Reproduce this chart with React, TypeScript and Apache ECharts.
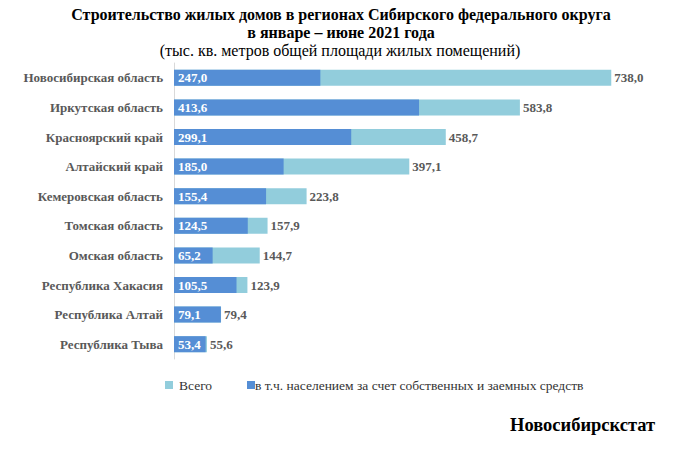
import React, { useEffect, useRef } from "react";
import * as echarts from "echarts";

const regions = [
  "Новосибирская область",
  "Иркутская область",
  "Красноярский край",
  "Алтайский край",
  "Кемеровская область",
  "Томская область",
  "Омская область",
  "Республика Хакасия",
  "Республика Алтай",
  "Республика Тыва",
];
const totalValues = [738.0, 583.8, 458.7, 397.1, 223.8, 157.9, 144.7, 123.9, 79.4, 55.6];
const populationValues = [247.0, 413.6, 299.1, 185.0, 155.4, 124.5, 65.2, 105.5, 79.1, 53.4];
const seriesNames = ["Всего", "в т.ч. населением за счет собственных и заемных средств"];

const FONT = "Liberation Serif";
const fmt = (v: number) => v.toFixed(1).replace(".", ",");

export default function App() {
  const ref = useRef<HTMLDivElement>(null);
  useEffect(() => {
    if (!ref.current) return;
    const chart = echarts.init(ref.current, undefined, { renderer: "svg" });
    chart.setOption({
      animation: false,
      backgroundColor: "#ffffff",
      textStyle: { fontFamily: FONT },
      title: [
        {
          text: "Строительство жилых домов в регионах Сибирского федерального округа",
          left: 336,
          top: 1,
          textAlign: "center",
          textStyle: { fontFamily: FONT, fontSize: 16, fontWeight: "bold", color: "#000" },
        },
        {
          text: "в январе – июне 2021 года",
          left: 336,
          top: 19,
          textAlign: "center",
          textStyle: { fontFamily: FONT, fontSize: 16, fontWeight: "bold", color: "#000" },
        },
        {
          text: "(тыс. кв. метров общей площади жилых помещений)",
          left: 335,
          top: 37,
          textAlign: "center",
          textStyle: { fontFamily: FONT, fontSize: 16, fontWeight: "normal", color: "#000" },
        },
        {
          text: "Новосибирскстат",
          left: 505,
          top: 410,
          textStyle: { fontFamily: FONT, fontSize: 18.5, fontWeight: "bold", color: "#000" },
        },
      ],
      legend: [
        {
          data: [seriesNames[0]],
          left: 160,
          top: 373,
          icon: "rect",
          itemWidth: 8,
          itemHeight: 8,
          formatter: (n: string) => "{t|" + n + "}",
          textStyle: {
            padding: [0, 0, 0, 1],
            rich: { t: { fontFamily: FONT, fontSize: 13.5, color: "#333" } },
          },
        },
        {
          data: [seriesNames[1]],
          left: 242,
          top: 373,
          icon: "rect",
          itemWidth: 8,
          itemHeight: 8,
          formatter: (n: string) => "{t|" + n + "}",
          textStyle: {
            padding: [0, 0, 0, -5],
            rich: { t: { fontFamily: FONT, fontSize: 13.5, color: "#333" } },
          },
        },
      ],
      grid: { left: 174, top: 63, width: 474, height: 296, containLabel: false },
      xAxis: {
        type: "value",
        min: 0,
        max: 800,
        show: false,
      },
      yAxis: {
        type: "category",
        data: regions,
        inverse: true,
        axisLine: { show: true, lineStyle: { color: "#d9d9d9", width: 1 } },
        axisTick: { show: false },
        axisLabel: {
          margin: 11,
          formatter: (v: string) => "{c|" + v + "}",
          rich: {
            c: { fontFamily: FONT, fontSize: 13, fontWeight: "bold", color: "#595959" },
          },
        },
      },
      series: [
        {
          name: seriesNames[0],
          type: "bar",
          data: totalValues,
          barWidth: 16,
          barGap: "-100%",
          itemStyle: { color: "#92cddc" },
          label: {
            show: true,
            position: "right",
            distance: 3,
            formatter: (p: any) => "{v|" + fmt(p.value) + "}",
            rich: {
              v: { fontFamily: FONT, fontSize: 13, fontWeight: "bold", color: "#595959" },
            },
          },
        },
        {
          name: seriesNames[1],
          type: "bar",
          data: populationValues,
          barWidth: 16,
          barGap: "-100%",
          itemStyle: { color: "#558ed5" },
          label: {
            show: true,
            position: "insideLeft",
            distance: 4,
            formatter: (p: any) => "{v|" + fmt(p.value) + "}",
            rich: {
              v: { fontFamily: FONT, fontSize: 13, fontWeight: "bold", color: "#ffffff" },
            },
          },
        },
      ],
    });
    return () => chart.dispose();
  }, []);
  return <div ref={ref} style={{ width: 686, height: 450, margin: -8 }} />;
}
